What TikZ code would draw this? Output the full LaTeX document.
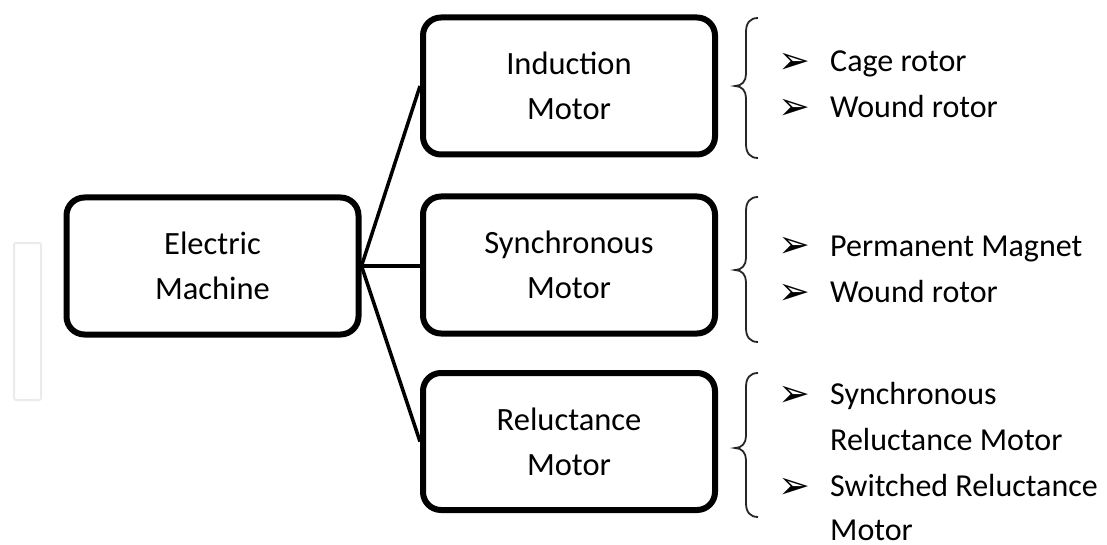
\documentclass[tikz,border=0pt]{standalone}
\usepackage{fontspec}
\setmainfont{Carlito}
\newfontfamily\dejavu{DejaVu Sans}
\newcommand\mybrace[3]{%
  \draw[bracestyle] (758,#1) .. controls (750,#1) and (746,#1+5) .. (746,#1+14)
    -- (746,#2-12) .. controls (746,#2-5) and (742,#2) .. (735,#2)
    .. controls (742,#2) and (746,#2+5) .. (746,#2+12)
    -- (746,#3-14) .. controls (746,#3-5) and (750,#3) .. (758,#3);}
\begin{document}
\begin{tikzpicture}[x=1pt,y=-1pt,
  box/.style={draw=black,line width=6pt,rounded corners=18pt,minimum width=292pt,minimum height=137pt,align=center,inner sep=0pt,font=\fontsize{32.5}{45}\selectfont},
  conn/.style={line width=3.5pt},
  bracestyle/.style={line width=1.8pt,black!85},
  item/.style={anchor=base west,inner sep=0pt,font=\fontsize{32}{40}\selectfont},
  bul/.style={anchor=base west,inner sep=0pt,font=\dejavu\fontsize{38}{40}\selectfont}]
\useasboundingbox (0,0) rectangle (1107,545);
\fill[white] (0,0) rectangle (1107,545);
% faint side tab
\draw[black!8,line width=2pt,rounded corners=2pt] (14,400) -- (14,243) -- (41,243) -- (41,400) -- cycle;
% boxes
\node[box] (em) at (212.5,266) {Electric\\Machine};
\node[box] (im) at (569,86) {Induction\\Motor};
\node[box] (sm) at (569,265) {Synchronous\\Motor};
\node[box] (rm) at (569,441.5) {Reluctance\\Motor};
% connectors
\draw[conn] (em.east) -- (im.west);
\draw[conn] (em.east) -- (sm.west |- em.east);
\draw[conn] (em.east) -- (rm.west);
% braces
\mybrace{18}{86}{158}
\mybrace{197}{270}{342}
\mybrace{373}{448}{517}
% list 1
\node[bul] (b1) at (778,74) {➢};
\node[item] (t1) at (830,72) {Cage rotor};
\node[bul] (b2) at (778,120) {➢};
\node[item] (t2) at (830,118) {Wound rotor};
% list 2
\node[bul] (b3) at (778,258) {➢};
\node[item] (t3) at (830,256) {Permanent Magnet};
\node[bul] (b4) at (778,304) {➢};
\node[item] (t4) at (830,302) {Wound rotor};
% list 3
\node[bul] (b5) at (778,406) {➢};
\node[item] (t5) at (830,404) {Synchronous};
\node[item] (t6) at (830,450) {Reluctance Motor};
\node[bul] (b6) at (778,498) {➢};
\node[item] (t7) at (830,496) {Switched Reluctance};
\node[item] (t8) at (830,540) {Motor};
\end{tikzpicture}
\end{document}
